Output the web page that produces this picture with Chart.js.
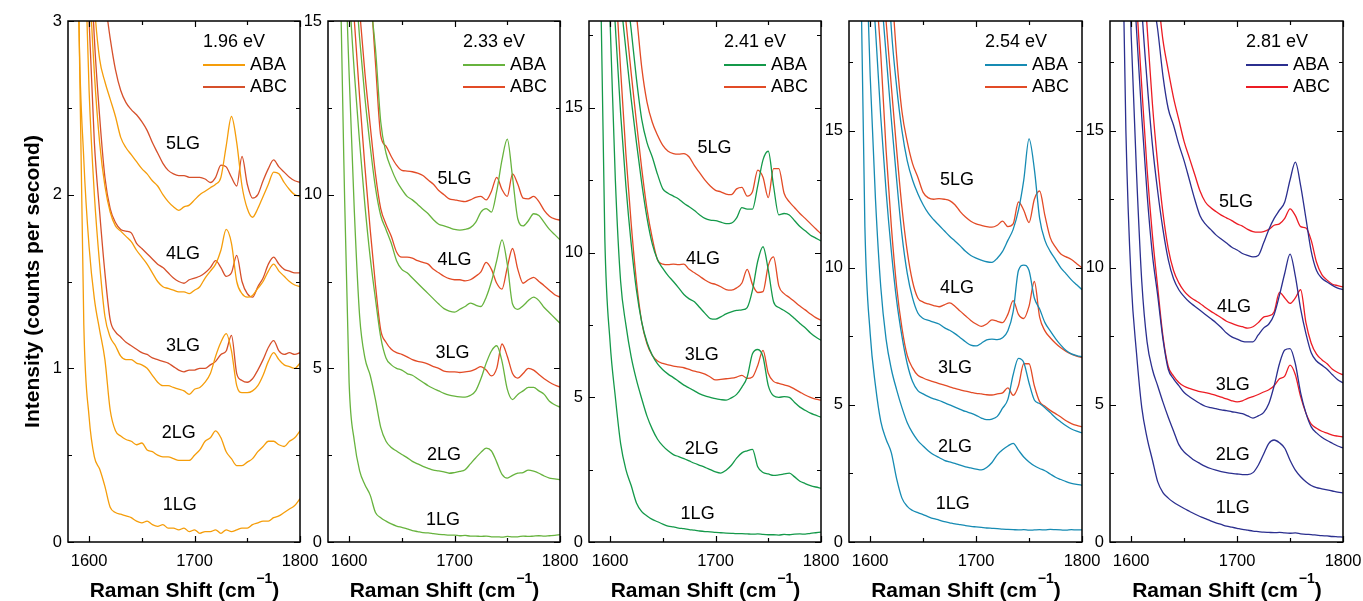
<!DOCTYPE html>
<html>
<head>
<meta charset="utf-8">
<title>Raman spectra ABA / ABC</title>
<script src="https://cdn.jsdelivr.net/npm/chart.js@4.4.1/dist/chart.umd.min.js"></script>
<style>
  html, body { margin: 0; padding: 0; background: #fff; }
  #wrap { position: relative; width: 1363px; height: 601px; overflow: hidden; }
  #wrap canvas { position: absolute; left: 0; top: 0; }
</style>
</head>
<body>
<div id="wrap">
  <canvas id="c0" width="1363" height="601"></canvas>
  <canvas id="c1" width="1363" height="601"></canvas>
  <canvas id="c2" width="1363" height="601"></canvas>
  <canvas id="c3" width="1363" height="601"></canvas>
  <canvas id="c4" width="1363" height="601"></canvas>
</div>
<script>
// Raman shift (cm-1) shared by every spectrum
var shift = [
  1580, 1585, 1590, 1595, 1600, 1605, 1610, 1615, 1620,
  1625, 1630, 1635, 1640, 1645, 1650, 1655, 1660, 1665,
  1670, 1675, 1680, 1685, 1690, 1695, 1700, 1705, 1710,
  1715, 1720, 1725, 1730, 1735, 1740, 1745, 1750, 1755,
  1760, 1765, 1770, 1775, 1780, 1785, 1790, 1795, 1800
];

// ---- 1.96 eV ----
var e196_1LG = [
  8, 5.5, 3.2, 1.25, 0.72, 0.49, 0.42, 0.32, 0.2,
  0.17, 0.16, 0.15, 0.14, 0.12, 0.11, 0.12, 0.1, 0.09,
  0.1, 0.08, 0.08, 0.07, 0.08, 0.06, 0.07, 0.05, 0.06,
  0.06, 0.07, 0.05, 0.07, 0.06, 0.07, 0.08, 0.08, 0.1,
  0.11, 0.12, 0.12, 0.14, 0.15, 0.17, 0.19, 0.21, 0.25
];
var e196_2LG = [
  9, 6, 3.1, 2.2, 1.7, 1.4, 1.22, 1.05, 0.76,
  0.64, 0.61, 0.59, 0.58, 0.56, 0.57, 0.53, 0.52, 0.5,
  0.49, 0.49, 0.48, 0.47, 0.47, 0.47, 0.5, 0.53, 0.58,
  0.6, 0.64, 0.6, 0.52, 0.48, 0.44, 0.44, 0.46, 0.48,
  0.52, 0.55, 0.58, 0.58, 0.56, 0.55, 0.58, 0.6, 0.64
];
var e196_3LG_ABA = [
  9, 7, 5, 3.6, 2.6, 2.0, 1.6, 1.3, 1.18,
  1.13, 1.07, 1.05, 1.05, 1.03, 1.02, 1.0, 0.96, 0.92,
  0.9, 0.9, 0.89, 0.88, 0.87, 0.85, 0.88, 0.89, 0.92,
  0.97, 1.07, 1.15, 1.2, 1.1, 0.9, 0.86, 0.86, 0.87,
  0.9, 0.96, 1.04, 1.09, 1.05, 1.02, 1.01, 1.0, 1.03
];
var e196_3LG_ABC = [
  10, 8, 5.5, 4, 3.0, 2.3, 1.9, 1.55, 1.28,
  1.21, 1.18, 1.15, 1.13, 1.11, 1.09, 1.08, 1.06, 1.05,
  1.04, 1.03, 1.01, 0.99, 0.98, 0.99, 0.99, 1.0, 1.0,
  1.02, 1.04, 1.08, 1.1, 1.19, 0.97, 0.93, 0.92, 0.94,
  0.99, 1.05, 1.12, 1.16, 1.1, 1.08, 1.09, 1.08, 1.09
];
var e196_4LG_ABA = [
  11, 8.5, 6, 4.3, 3.3, 2.7, 2.3, 2.05, 1.9,
  1.82, 1.79, 1.76, 1.73, 1.68, 1.64, 1.6, 1.55, 1.5,
  1.47, 1.46, 1.45, 1.44, 1.44, 1.43, 1.45, 1.47, 1.52,
  1.56, 1.6, 1.68, 1.8, 1.72, 1.5, 1.43, 1.41, 1.42,
  1.46, 1.5, 1.56, 1.6, 1.56, 1.53, 1.5, 1.48, 1.47
];
var e196_4LG_ABC = [
  12, 9, 6.5, 4.8, 3.6, 2.9, 2.45, 2.1, 1.92,
  1.84, 1.8, 1.79, 1.78, 1.72, 1.69, 1.66, 1.63, 1.6,
  1.58, 1.55, 1.52, 1.5, 1.49, 1.51, 1.52, 1.53, 1.55,
  1.58, 1.62, 1.58, 1.53, 1.55, 1.65, 1.5, 1.43, 1.41,
  1.47, 1.52, 1.6, 1.64, 1.6, 1.57, 1.56, 1.55, 1.55
];
var e196_5LG_ABA = [
  12, 9.5, 7, 5, 3.7, 3.1, 2.78, 2.65, 2.55,
  2.45, 2.33, 2.27, 2.23, 2.19, 2.15, 2.12, 2.08, 2.05,
  2.0, 1.96, 1.93, 1.91, 1.93, 1.94, 1.97, 2.0, 2.02,
  2.04, 2.06, 2.1, 2.28, 2.45, 2.3, 2.05, 1.92, 1.87,
  1.92, 1.99, 2.06, 2.13, 2.12, 2.07, 2.03, 2.0, 1.99
];
var e196_5LG_ABC = [
  14, 11, 8, 6, 4.5, 3.7, 3.3, 3.12, 2.9,
  2.72, 2.6, 2.53, 2.49, 2.46, 2.42, 2.37, 2.3, 2.24,
  2.18, 2.14, 2.12, 2.11, 2.11, 2.1, 2.1, 2.1, 2.09,
  2.07, 2.1, 2.17, 2.16, 2.1, 2.05, 2.22, 2.06, 1.98,
  2.0, 2.08, 2.15, 2.2, 2.16, 2.13, 2.1, 2.08, 2.07
];

// ---- 2.33 eV ----
var e233_1LG = [
  40, 28, 19, 11, 4.6, 2.9, 2.05, 1.65, 1.35,
  0.85, 0.7, 0.6, 0.52, 0.46, 0.42, 0.38, 0.33, 0.3,
  0.27, 0.26, 0.24, 0.22, 0.21, 0.2, 0.2, 0.18, 0.19,
  0.17, 0.17, 0.16, 0.17, 0.15, 0.15, 0.14, 0.16, 0.15,
  0.15, 0.17, 0.16, 0.17, 0.18, 0.17, 0.18, 0.19, 0.21
];
var e233_2LG = [
  45, 32, 24, 18, 13.5, 9.5, 6.5, 5.3, 4.8,
  4.1, 3.3, 2.9, 2.72, 2.62, 2.52, 2.43, 2.32, 2.25,
  2.18, 2.12, 2.07, 2.05, 2.02, 1.98, 2.0, 2.03, 2.08,
  2.25, 2.42, 2.58, 2.7, 2.62, 2.3, 1.95, 1.84, 1.92,
  1.98, 2.0, 2.07, 2.04, 1.98, 1.9, 1.84, 1.82, 1.79
];
var e233_3LG_ABA = [
  40, 30, 24, 19.5, 16, 13.5, 11.5, 9.7, 8.2,
  7.0, 5.9, 5.3, 5.1, 5.0, 4.95, 4.85, 4.8, 4.7,
  4.6, 4.5, 4.42, 4.35, 4.28, 4.23, 4.2, 4.18, 4.17,
  4.22, 4.35, 4.7, 5.15, 5.5, 5.65, 5.2, 4.4, 4.1,
  4.25, 4.35, 4.45, 4.45, 4.35, 4.25, 4.05, 3.95, 3.88
];
var e233_3LG_ABC = [
  45, 34, 27, 21, 17.5, 15, 12.8, 10.8, 9.0,
  7.4, 6.1, 5.75, 5.55, 5.45, 5.4, 5.33, 5.25, 5.2,
  5.17, 5.12, 5.05, 5.0, 4.92, 4.9, 4.9, 4.88, 4.9,
  4.92, 4.98, 5.05, 4.95, 4.78, 5.0, 5.7, 5.35, 4.85,
  4.72, 4.85, 5.0, 4.95, 4.82, 4.7, 4.6, 4.52, 4.46
];
var e233_4LG_ABA = [
  45, 35, 28, 22.5, 19, 16.5, 14.5, 12.8, 11.4,
  10.2, 9.4, 9.0, 8.6, 8.1, 7.85, 7.75, 7.6, 7.45,
  7.3, 7.15, 7.0, 6.85, 6.72, 6.65, 6.62, 6.7, 6.78,
  6.88, 6.82, 6.78, 7.05, 7.5, 8.1, 8.7, 8.0, 6.85,
  6.7, 6.8, 6.95, 7.05, 6.95, 6.75, 6.6, 6.45, 6.3
];
var e233_4LG_ABC = [
  50, 38, 30, 24.5, 20.5, 17.5, 15.3, 13.5, 12.0,
  10.6, 9.6, 9.15, 8.8, 8.35, 8.2, 8.2, 8.17, 8.1,
  8.05, 8.0, 7.85, 7.75, 7.65, 7.58, 7.55, 7.55, 7.52,
  7.55, 7.65, 7.78, 8.05, 7.85, 7.45, 7.28, 7.9, 8.45,
  7.85, 7.45, 7.55, 7.62, 7.5, 7.38, 7.25, 7.12, 7.05
];
var e233_5LG_ABA = [
  50, 40, 33, 27.5, 23.5, 20.5, 18.3, 16.6, 15.6,
  14.2, 12.1, 11.2, 10.75, 10.4, 10.15, 9.95, 9.85, 9.72,
  9.58, 9.45, 9.28, 9.15, 9.1, 9.05, 9.0, 8.98, 9.0,
  9.05, 9.2, 9.5, 9.6, 9.5, 10.1, 11.0, 11.6, 10.5,
  9.3, 9.1, 9.25, 9.45, 9.4, 9.2, 9.0, 8.85, 8.7
];
var e233_5LG_ABC = [
  55, 44, 36, 30, 25.5, 22, 19.5, 17.5, 16,
  13.8, 11.7, 11.4, 11.1, 10.85, 10.7, 10.68, 10.66, 10.62,
  10.55, 10.42, 10.3, 10.12, 10.0, 9.88, 9.85, 9.82, 9.8,
  9.85, 9.92, 9.95, 9.85, 10.1, 10.5, 10.15, 9.95, 10.6,
  10.3, 9.9, 9.88, 9.95, 9.8, 9.55, 9.38, 9.3, 9.27
];

// ---- 2.41 eV ----
var e241_1LG = [
  50, 35, 22, 10.5, 6.9, 5.0, 3.4, 2.5, 1.95,
  1.35, 1.05, 0.9, 0.78, 0.7, 0.62, 0.55, 0.52, 0.48,
  0.46, 0.43, 0.41, 0.38, 0.36, 0.35, 0.33, 0.32, 0.31,
  0.3, 0.29, 0.29, 0.28, 0.27, 0.28, 0.26, 0.25, 0.25,
  0.24, 0.26, 0.25, 0.27, 0.28, 0.27, 0.3, 0.32, 0.34
];
var e241_2LG = [
  60, 42, 30, 22, 18, 12.5, 9.0, 7.5, 6.4,
  5.6, 4.95, 4.35, 3.9, 3.55, 3.32, 3.15, 3.02, 2.95,
  2.88, 2.8, 2.72, 2.65, 2.58, 2.5, 2.42, 2.38, 2.48,
  2.65, 2.9, 3.08, 3.15, 3.2, 2.6, 2.4, 2.35, 2.3,
  2.32, 2.35, 2.38, 2.25, 2.1, 2.02, 1.95, 1.9, 1.86
];
var e241_3LG_ABA = [
  60, 45, 34, 26, 21, 17.8, 14.8, 12.3, 10.3,
  8.7, 7.6, 6.9, 6.45, 6.15, 5.95, 5.8, 5.68, 5.55,
  5.42, 5.32, 5.22, 5.12, 5.05, 5.0, 4.95, 4.92, 4.9,
  4.98, 5.1, 5.35, 5.7, 6.5, 6.65, 6.4, 5.4, 5.05,
  5.0, 5.02, 5.0, 4.82, 4.66, 4.55, 4.45, 4.38, 4.31
];
var e241_3LG_ABC = [
  65, 48, 37, 28.5, 23, 19.5, 16.3, 13.4, 11.0,
  9.0, 7.6, 6.85, 6.45, 6.25, 6.17, 6.12, 6.08, 6.05,
  6.02, 5.96, 5.9, 5.86, 5.8, 5.7, 5.6, 5.62, 5.64,
  5.66, 5.7, 5.76, 5.65, 5.7, 6.1, 6.62, 5.83, 5.55,
  5.48, 5.43, 5.38, 5.28, 5.18, 5.08, 5.0, 4.94, 4.9
];
var e241_4LG_ABA = [
  65, 50, 38, 30, 24.5, 21, 18.8, 17, 15.3,
  13.8, 12.4, 11.2, 10.3, 9.75, 9.45, 9.2, 9.0, 8.78,
  8.55, 8.4, 8.3, 8.1, 7.9, 7.72, 7.7, 7.78, 7.88,
  7.95, 8.0, 8.02, 8.1, 8.7, 9.7, 10.2, 9.4, 8.3,
  8.1, 8.0, 7.88, 7.72, 7.55, 7.4, 7.22, 7.08, 6.97
];
var e241_4LG_ABC = [
  70, 54, 41, 32, 26, 22.5, 20, 18, 16.2,
  14.5, 12.9, 11.5, 10.5, 9.75, 9.6, 9.58, 9.6, 9.58,
  9.6, 9.42, 9.3, 9.18, 9.05, 8.95, 8.9, 8.82, 8.72,
  8.7, 8.78, 8.95, 9.42, 8.9, 8.62, 8.65, 9.55, 9.85,
  8.85, 8.58, 8.45, 8.3, 8.15, 8.02, 7.88, 7.75, 7.66
];
var e241_5LG_ABA = [
  70, 56, 45, 36, 29.5, 25, 21.5, 19.3, 17.7,
  16.0, 14.6, 13.8, 13.3, 12.7, 12.2, 12.05, 11.95, 11.85,
  11.7, 11.58, 11.45, 11.3, 11.18, 11.12, 11.1, 11.05, 11.0,
  11.02, 11.2, 11.55, 11.5, 11.5, 12.3, 13.2, 13.5, 12.3,
  11.3, 11.35, 11.3, 11.1, 10.9, 10.75, 10.6, 10.5, 10.4
];
var e241_5LG_ABC = [
  75, 60, 48, 39, 32, 27.5, 24, 21.3, 19.5,
  18.2, 16.4, 15.2, 14.5, 14.05, 13.7, 13.5, 13.42, 13.4,
  13.42, 13.3, 13.0, 12.75, 12.5, 12.3, 12.15, 12.1, 12.02,
  12.0, 12.2, 12.25, 11.95, 12.1, 12.85, 12.6, 11.9, 12.9,
  12.9, 12.05, 11.75, 11.55, 11.35, 11.18, 11.0, 10.82, 10.65
];

// ---- 2.54 eV ----
var e254_1LG = [
  55, 38, 24, 11.5, 7.6, 5.7, 4.4, 3.75, 3.25,
  2.3, 1.6, 1.3, 1.15, 1.07, 1.0, 0.92, 0.85, 0.8,
  0.74, 0.7, 0.66, 0.63, 0.6, 0.57, 0.55, 0.53, 0.51,
  0.5, 0.49, 0.47, 0.46, 0.45, 0.44, 0.45, 0.43, 0.44,
  0.45, 0.44, 0.46, 0.45, 0.44, 0.43, 0.45, 0.44, 0.44
];
var e254_2LG = [
  65, 45, 32, 23, 17, 12.5, 9.3, 7.4, 6.3,
  5.55, 4.9, 4.35, 3.98, 3.7, 3.5, 3.32, 3.18, 3.08,
  2.98, 2.92, 2.87, 2.8, 2.74, 2.7, 2.66, 2.63, 2.72,
  2.9, 3.18, 3.36, 3.5, 3.6, 3.35, 3.1, 2.92, 2.78,
  2.68, 2.6, 2.48, 2.36, 2.28, 2.2, 2.14, 2.1, 2.07
];
var e254_3LG_ABA = [
  70, 50, 37, 27, 21.5, 18.7, 15.5, 12.8, 10.6,
  8.8, 7.5, 6.5, 5.85, 5.52, 5.4, 5.3, 5.22, 5.16,
  5.08, 5.0, 4.92, 4.84, 4.76, 4.7, 4.62, 4.52, 4.46,
  4.48, 4.58, 4.88, 5.2, 6.1, 6.7, 6.55, 5.8, 5.18,
  5.05, 4.9, 4.72, 4.53, 4.38, 4.24, 4.12, 4.04, 3.98
];
var e254_3LG_ABC = [
  75, 55, 40, 30, 24, 20.5, 17.8, 14.3, 11.5,
  9.3, 7.8, 6.8, 6.35, 6.08, 5.98, 5.9, 5.84, 5.78,
  5.72, 5.66, 5.6, 5.55, 5.5, 5.46, 5.42, 5.4, 5.37,
  5.36, 5.4, 5.44, 5.62, 5.35, 5.7, 6.5, 6.5, 5.7,
  5.12, 4.95, 4.8, 4.68, 4.56, 4.42, 4.32, 4.25, 4.2
];
var e254_4LG_ABA = [
  75, 58, 45, 35, 28, 23.5, 20.3, 17.8, 15.4,
  13.2, 11.2, 9.8, 8.9, 8.35, 8.15, 8.08, 8.02, 7.95,
  7.82, 7.72, 7.6, 7.45, 7.3, 7.18, 7.15, 7.25, 7.37,
  7.4, 7.38, 7.45, 7.7, 8.4, 9.9, 10.1, 9.9, 8.9,
  8.5, 8.0, 7.7, 7.42, 7.18, 6.98, 6.86, 6.8, 6.75
];
var e254_4LG_ABC = [
  80, 62, 48, 37.5, 30, 25, 21.5, 19.0, 16.6,
  14.3, 12.2, 10.6, 9.5, 8.9, 8.75, 8.68, 8.62, 8.58,
  8.65, 8.72, 8.6, 8.42, 8.25, 8.08, 7.95, 7.86, 7.95,
  8.1, 8.05, 8.0, 8.3, 8.8, 8.3, 8.15, 8.6, 9.5,
  8.2, 7.7, 7.45, 7.25, 7.08, 6.95, 6.85, 6.78, 6.72
];
var e254_5LG_ABA = [
  80, 64, 52, 42, 35, 30, 26, 22.2, 18.7,
  16.6, 15.0, 13.9, 13.2, 12.7, 12.3, 11.98, 11.75, 11.55,
  11.35, 11.15, 10.98, 10.8, 10.6, 10.45, 10.35, 10.28, 10.22,
  10.2, 10.35, 10.6, 11.0, 11.4, 12.1, 13.2, 14.7, 13.6,
  11.8, 11.0, 10.6, 10.3, 10.0, 9.78, 9.56, 9.38, 9.2
];
var e254_5LG_ABC = [
  85, 68, 55, 45, 37.5, 32, 27.5, 23.5, 20.5,
  17.7, 15.7, 14.6, 13.8, 13.3, 12.75, 12.55, 12.5, 12.52,
  12.5, 12.45, 12.3, 12.05, 11.85, 11.7, 11.6, 11.55, 11.5,
  11.48, 11.55, 11.7, 11.5, 11.6, 12.4, 12.1, 11.65, 12.5,
  12.8, 11.9, 11.1, 10.75, 10.5, 10.4, 10.3, 10.15, 10.0
];

// ---- 2.81 eV ----
var e281_1LG = [
  55, 40, 26, 15, 9.5, 6.9, 4.9, 3.8, 3.0,
  2.2, 1.8, 1.6, 1.45, 1.33, 1.22, 1.12, 1.02, 0.93,
  0.85, 0.77, 0.7, 0.64, 0.58, 0.54, 0.5, 0.46, 0.43,
  0.4, 0.38, 0.36, 0.35, 0.34, 0.35, 0.33, 0.32, 0.33,
  0.3, 0.28, 0.27, 0.25, 0.23, 0.22, 0.2, 0.19, 0.18
];
var e281_2LG = [
  65, 48, 35, 25.5, 18.5, 13.5, 9.5, 7.3, 6.3,
  5.7, 5.1, 4.55, 4.05, 3.55, 3.28, 3.12, 2.97, 2.86,
  2.76, 2.68, 2.62, 2.57, 2.53, 2.5, 2.48, 2.46, 2.46,
  2.53, 2.8, 3.2, 3.6, 3.72, 3.62, 3.42, 2.98, 2.62,
  2.38, 2.2, 2.06, 1.98, 1.94, 1.9, 1.86, 1.82, 1.79
];
var e281_3LG_ABA = [
  70, 52, 38, 28, 22.5, 18.7, 15.5, 12.7, 10.5,
  9.0, 7.4, 6.3, 5.95, 5.7, 5.45, 5.3, 5.17, 5.05,
  4.95, 4.9, 4.86, 4.82, 4.79, 4.75, 4.72, 4.68, 4.6,
  4.52, 4.6, 4.72, 5.05, 5.7, 6.5, 7.0, 7.05, 6.5,
  5.44, 4.7, 4.2, 3.98, 3.82, 3.7, 3.6, 3.5, 3.43
];
var e281_3LG_ABC = [
  75, 56, 41, 30, 24, 19.8, 16.6, 13.6, 11.2,
  9.3, 7.5, 6.4, 6.05, 5.82, 5.68, 5.6, 5.54, 5.48,
  5.45, 5.4, 5.35, 5.28, 5.22, 5.15, 5.11, 5.15, 5.24,
  5.3, 5.38, 5.47, 5.55, 5.7, 5.95, 6.05, 6.45, 6.1,
  5.3, 4.7, 4.3, 4.15, 4.04, 3.97, 3.9, 3.86, 3.83
];
var e281_4LG_ABA = [
  75, 58, 45, 35, 28, 23.5, 19.5, 16.8, 14.5,
  12.8, 11.4, 10.3, 9.6, 9.2, 8.95, 8.75, 8.6, 8.45,
  8.3, 8.15, 8.0, 7.82, 7.62, 7.48, 7.4, 7.32, 7.3,
  7.3, 7.55, 7.8, 7.95, 8.3, 9.0, 9.8, 10.5, 9.7,
  8.5, 7.6, 6.9, 6.6, 6.45, 6.3, 6.1, 5.92, 5.8
];
var e281_4LG_ABC = [
  80, 62, 48, 37.5, 30, 25, 21.5, 18.8, 16.0,
  13.8, 12.0, 10.7, 9.9, 9.45, 9.15, 8.95, 8.82, 8.7,
  8.55, 8.42, 8.3, 8.18, 8.05, 7.97, 7.9, 7.85, 7.8,
  7.85, 8.0, 8.2, 8.25, 8.4, 9.1, 8.9, 8.7, 8.9,
  9.2, 8.0, 7.25, 6.85, 6.65, 6.5, 6.3, 6.18, 6.1
];
var e281_5LG_ABA = [
  80, 65, 53, 43, 35.5, 30, 26, 22.5, 20,
  18.7, 17.0, 15.8, 15.2, 14.5, 13.9, 13.2, 12.5, 11.9,
  11.6, 11.4, 11.2, 11.05, 10.9, 10.75, 10.65, 10.52, 10.45,
  10.4, 10.45, 10.9, 11.4, 11.8, 12.1, 12.4, 13.2, 13.85,
  13.0, 11.8, 10.6, 9.9, 9.62, 9.48, 9.36, 9.26, 9.2
];
var e281_5LG_ABC = [
  85, 70, 57, 47, 39, 33, 28.5, 24.5, 21.5,
  20.0, 18.3, 17.2, 16.2, 15.4, 14.6, 14.0, 13.4, 12.8,
  12.4, 12.2, 12.05, 11.92, 11.82, 11.72, 11.6, 11.52, 11.4,
  11.32, 11.3, 11.32, 11.4, 11.55, 11.6, 11.8, 12.15, 11.9,
  11.5, 11.45, 11.0, 10.2, 9.75, 9.55, 9.4, 9.35, 9.3
];

// axis ticks and labels
var energies = ['1.96 eV', '2.33 eV', '2.41 eV', '2.54 eV', '2.81 eV'];
var layerNames = ['1LG', '2LG', '3LG', '4LG', '5LG'];
var xTicks = [1600, 1700, 1800];
var xMinor = [1650, 1750];
var yTicks196 = [0, 1, 2, 3];
var yMinor196 = [0.5, 1.5, 2.5];
var yTicksHigh = [0, 5, 10, 15];
var yMinorHigh = [2.5, 7.5, 12.5, 17.5];

var W = 1363, H = 601;
var TOP = 21, BOTTOM = 542;
var FONT = '"Liberation Sans", Arial, Helvetica, sans-serif';

var panels = [
  { left: 68, right: 300, yMax: 3, yTicks: yTicks196, yMinor: yMinor196,
    aba: '#f59d0a', abc: '#d6502b',
    series: [e196_1LG, e196_2LG, e196_3LG_ABA, e196_3LG_ABC, e196_4LG_ABA, e196_4LG_ABC, e196_5LG_ABA, e196_5LG_ABC],
    labels: [[1686, 0.21], [1685, 0.63], [1689, 1.13], [1689, 1.66], [1689, 2.29]] },
  { left: 328, right: 560, yMax: 15, yTicks: yTicksHigh, yMinor: yMinorHigh,
    aba: '#67b33e', abc: '#e24b26',
    series: [e233_1LG, e233_2LG, e233_3LG_ABA, e233_3LG_ABC, e233_4LG_ABA, e233_4LG_ABC, e233_5LG_ABA, e233_5LG_ABC],
    labels: [[1689, 0.63], [1690, 2.5], [1698, 5.44], [1700, 8.12], [1700, 10.45]] },
  { left: 589, right: 821, yMax: 18, yTicks: yTicksHigh, yMinor: yMinorHigh,
    aba: '#14994a', abc: '#e24b26',
    series: [e241_1LG, e241_2LG, e241_3LG_ABA, e241_3LG_ABC, e241_4LG_ABA, e241_4LG_ABC, e241_5LG_ABA, e241_5LG_ABC],
    labels: [[1683, 0.97], [1687, 3.21], [1687, 6.45], [1688, 9.79], [1699, 13.6]] },
  { left: 849, right: 1082, yMax: 19, yTicks: yTicksHigh, yMinor: yMinorHigh,
    aba: '#168bb3', abc: '#e24b26',
    series: [e254_1LG, e254_2LG, e254_3LG_ABA, e254_3LG_ABC, e254_4LG_ABA, e254_4LG_ABC, e254_5LG_ABA, e254_5LG_ABC],
    labels: [[1678, 1.39], [1680, 3.47], [1680, 6.35], [1682, 9.27], [1682, 13.2]] },
  { left: 1110, right: 1343, yMax: 19, yTicks: yTicksHigh, yMinor: yMinorHigh,
    aba: '#2b2f8f', abc: '#ec1c24',
    series: [e281_1LG, e281_2LG, e281_3LG_ABA, e281_3LG_ABC, e281_4LG_ABA, e281_4LG_ABC, e281_5LG_ABA, e281_5LG_ABC],
    labels: [[1696, 1.24], [1696, 3.17], [1696, 5.73], [1697, 8.58], [1699, 12.4]] }
];

// which of the 8 curves are ABC stacked (the rest use the ABA colour)
var isABC = [false, false, false, true, false, true, false, true];

function toPoints(values) {
  return values.map(function (v, i) { return { x: shift[i], y: v }; });
}

// frame, inward ticks, tick labels, legend and layer labels
var decor = {
  id: 'decor',
  afterDraw: function (chart, args, o) {
    var ctx = chart.ctx;
    var a = chart.chartArea;
    var xs = chart.scales.x, ys = chart.scales.y;
    var p = o.panel;

    ctx.save();
    ctx.strokeStyle = '#000';
    ctx.lineWidth = 1.5;
    ctx.strokeRect(a.left, a.top, a.right - a.left, a.bottom - a.top);

    ctx.lineWidth = 1.2;
    ctx.beginPath();
    function xt(v, len) {
      var px = Math.round(xs.getPixelForValue(v)) + 0.5;
      ctx.moveTo(px, a.bottom); ctx.lineTo(px, a.bottom - len);
      ctx.moveTo(px, a.top); ctx.lineTo(px, a.top + len);
    }
    function yt(v, len) {
      var py = Math.round(ys.getPixelForValue(v)) + 0.5;
      ctx.moveTo(a.left, py); ctx.lineTo(a.left + len, py);
      ctx.moveTo(a.right, py); ctx.lineTo(a.right - len, py);
    }
    xTicks.forEach(function (v) { xt(v, 6); });
    xMinor.forEach(function (v) { xt(v, 4); });
    p.yTicks.forEach(function (v) { yt(v, 6); });
    p.yMinor.forEach(function (v) { if (v < p.yMax) yt(v, 4); });
    ctx.stroke();

    // tick labels
    ctx.fillStyle = '#000';
    ctx.font = '16.5px ' + FONT;
    ctx.textAlign = 'center';
    ctx.textBaseline = 'middle';
    xTicks.forEach(function (v) {
      ctx.fillText(String(v), xs.getPixelForValue(v), a.bottom + 19);
    });
    ctx.textAlign = 'right';
    p.yTicks.forEach(function (v) {
      ctx.fillText(String(v), a.left - 6, ys.getPixelForValue(v));
    });

    // x title with superscript
    var cx = (a.left + a.right) / 2;
    var t1 = 'Raman Shift (cm', t2 = '\u22121', t3 = ')';
    ctx.font = 'bold 21px ' + FONT;
    var w1 = ctx.measureText(t1).width, w3 = ctx.measureText(t3).width;
    ctx.font = 'bold 14px ' + FONT;
    var w2 = ctx.measureText(t2).width;
    var x0 = cx - (w1 + w2 + w3) / 2;
    ctx.textAlign = 'left';
    ctx.textBaseline = 'alphabetic';
    ctx.font = 'bold 21px ' + FONT;
    ctx.fillText(t1, x0, 597);
    ctx.fillText(t3, x0 + w1 + w2 + 1, 597);
    ctx.font = 'bold 14px ' + FONT;
    ctx.fillText(t2, x0 + w1 + 1, 583);

    // y title on the first panel only
    if (o.index === 0) {
      ctx.save();
      ctx.translate(39, (a.top + a.bottom) / 2);
      ctx.rotate(-Math.PI / 2);
      ctx.font = 'bold 21px ' + FONT;
      ctx.textAlign = 'center';
      ctx.textBaseline = 'alphabetic';
      ctx.fillText('Intensity (counts per second)', 0, 0);
      ctx.restore();
    }

    // energy + legend
    ctx.font = '18px ' + FONT;
    ctx.textAlign = 'left';
    ctx.textBaseline = 'middle';
    ctx.fillText(energies[o.index], a.right - 97, 42);
    ctx.lineWidth = 1.8;
    ctx.strokeStyle = p.aba;
    ctx.beginPath(); ctx.moveTo(a.right - 97, 65); ctx.lineTo(a.right - 55, 65); ctx.stroke();
    ctx.strokeStyle = p.abc;
    ctx.beginPath(); ctx.moveTo(a.right - 97, 87); ctx.lineTo(a.right - 55, 87); ctx.stroke();
    ctx.fillText('ABA', a.right - 50, 65);
    ctx.fillText('ABC', a.right - 50, 87);

    // layer labels
    ctx.textAlign = 'center';
    layerNames.forEach(function (name, i) {
      var pos = p.labels[i];
      ctx.fillText(name, xs.getPixelForValue(pos[0]), ys.getPixelForValue(pos[1]));
    });
    ctx.restore();
  }
};

panels.forEach(function (p, idx) {
  var datasets = p.series.map(function (vals, i) {
    return {
      label: (i < 2 ? layerNames[i] : layerNames[Math.floor((i - 2) / 2) + 2] + (isABC[i] ? ' ABC' : ' ABA')),
      data: toPoints(vals),
      borderColor: isABC[i] ? p.abc : p.aba,
      borderWidth: 1.3,
      pointRadius: 0,
      fill: false,
      cubicInterpolationMode: 'monotone'
    };
  });

  new Chart(document.getElementById('c' + idx).getContext('2d'), {
    type: 'line',
    data: { datasets: datasets },
    options: {
      responsive: false,
      animation: false,
      events: [],
      layout: { padding: { left: p.left, right: W - p.right, top: TOP, bottom: H - BOTTOM } },
      plugins: {
        legend: { display: false },
        tooltip: { enabled: false },
        decor: { panel: p, index: idx }
      },
      scales: {
        x: { type: 'linear', min: 1580, max: 1800, display: false },
        y: { type: 'linear', min: 0, max: p.yMax, display: false }
      }
    },
    plugins: [decor]
  });
});
</script>
</body>
</html>
